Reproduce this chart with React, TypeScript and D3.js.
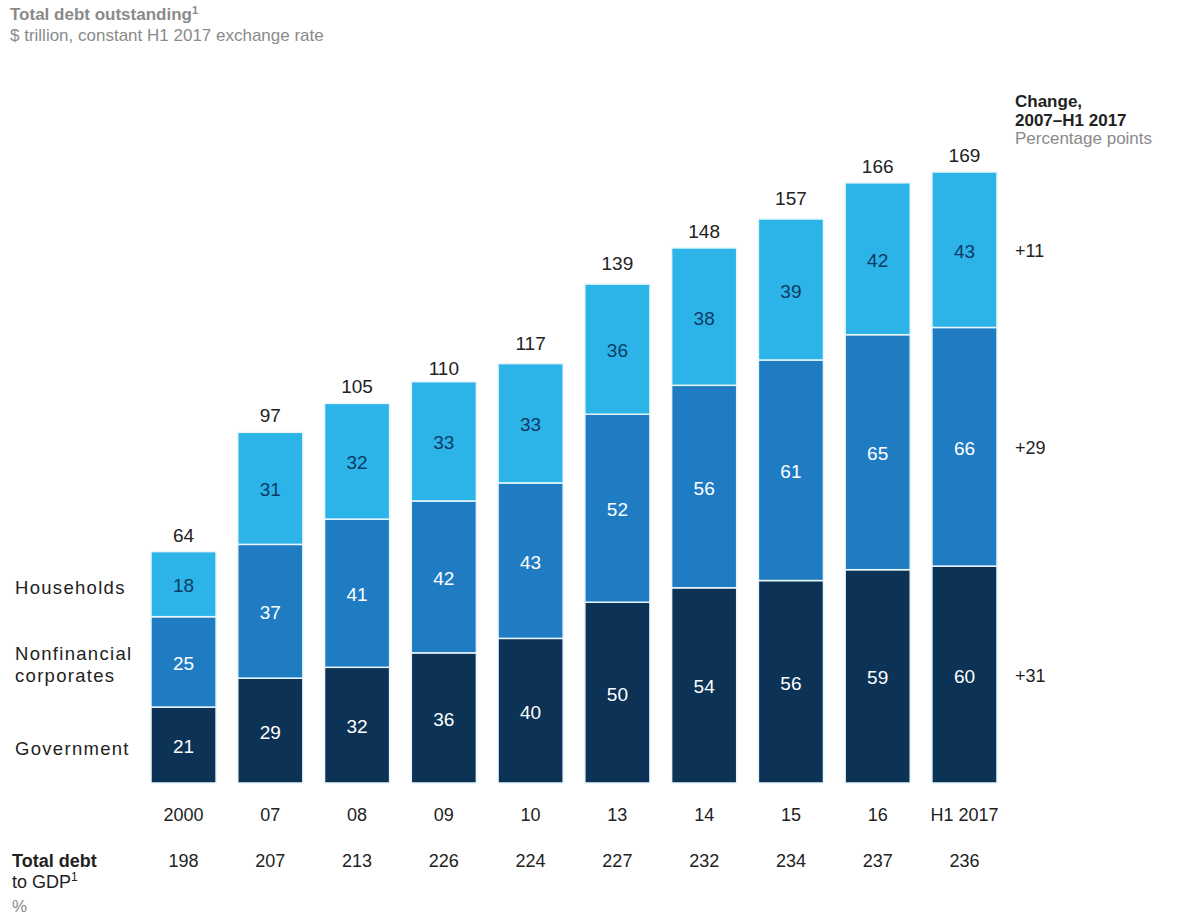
import React from "react";
import * as d3 from "d3";

const categories = ["2000", "07", "08", "09", "10", "13", "14", "15", "16", "H1 2017"];
const government = [21, 29, 32, 36, 40, 50, 54, 56, 59, 60];
const nonfinancial = [25, 37, 41, 42, 43, 52, 56, 61, 65, 66];
const households = [18, 31, 32, 33, 33, 36, 38, 39, 42, 43];
const totals = [64, 97, 105, 110, 117, 139, 148, 157, 166, 169];
const debtToGdp = [198, 207, 213, 226, 224, 227, 232, 234, 237, 236];
const seriesNames = ["Government", "Nonfinancial corporates", "Households"];
const changes = ["+31", "+29", "+11"];

const W = 1190;
const H = 917;
const FONT = "'Liberation Sans', Arial, Helvetica, sans-serif";
const colors = ["#0c3256", "#1f7cc3", "#2cb4e8"];
const labelColors = ["#ffffff", "#ffffff", "#0d3a66"];

export default function App() {
  const rows = categories.map((c, i) => ({
    cat: c,
    Government: government[i],
    "Nonfinancial corporates": nonfinancial[i],
    Households: households[i],
  }));
  const stack = d3.stack<any>().keys(seriesNames)(rows);

  const x = d3.scaleBand<string>().domain(categories).range([151, 997]).paddingInner(0.25).paddingOuter(0);
  const y = d3.scaleLinear().domain([0, 169]).range([783, 172]);
  const bw = x.bandwidth();
  const lastX = (x("H1 2017") as number) + bw;

  return (
    <svg width={W} height={H} style={{ position: "absolute", left: 0, top: 0, background: "#fff" }} fontFamily={FONT}>
      <rect width={W} height={H} fill="#fff" />
      <text x={10} y={20} fontSize={17} fontWeight="bold" fill="#8a8a8a">
        Total debt outstanding<tspan fontSize={11} dy={-6}>1</tspan>
      </text>
      <text x={10} y={41} fontSize={17} fill="#8a8a8a">$ trillion, constant H1 2017 exchange rate</text>

      {stack.map((layer, si) => (
        <g key={layer.key}>
          {layer.map((d, i) => {
            const x0 = x(categories[i]) as number;
            const y0 = y(d[1]);
            const y1 = y(d[0]);
            return (
              <g key={i}>
                <rect x={x0} y={y0} width={bw} height={y1 - y0} fill={colors[si]} stroke="#e8f6fc" strokeWidth={1.5} />
                <text x={x0 + bw / 2} y={(y0 + y1) / 2 + 8} textAnchor="middle" fontSize={19} fill={labelColors[si]}>
                  {d[1] - d[0]}
                </text>
              </g>
            );
          })}
        </g>
      ))}

      {totals.map((t, i) => (
        <text key={i} x={(x(categories[i]) as number) + bw / 2} y={y(t) - 10} textAnchor="middle" fontSize={19} fill="#222">
          {t}
        </text>
      ))}

      {categories.map((c, i) => (
        <text key={c} x={(x(c) as number) + bw / 2} y={821} textAnchor="middle" fontSize={18} fill="#222">
          {c}
        </text>
      ))}
      {debtToGdp.map((v, i) => (
        <text key={i} x={(x(categories[i]) as number) + bw / 2} y={867} textAnchor="middle" fontSize={18} fill="#222">
          {v}
        </text>
      ))}

      <text x={12} y={867} fontSize={18} fontWeight="bold" fill="#222">Total debt</text>
      <text x={12} y={888} fontSize={18} fill="#222">
        to GDP<tspan fontSize={12} dy={-7}>1</tspan>
      </text>
      <text x={12} y={912} fontSize={17} fill="#8a8a8a">%</text>

      {/* left series labels, positioned at the 2000 bar's segments */}
      {stack.map((layer, si) => {
        const d = layer[0];
        const mid = (y(d[0]) + y(d[1])) / 2;
        const lines = seriesNames[si] === "Nonfinancial corporates" ? ["Nonfinancial", "corporates"] : [seriesNames[si]];
        return (
          <text key={si} x={15} y={mid + 10 - (lines.length - 1) * 12} fontSize={18.5} fill="#222" letterSpacing={1.3}>
            {lines.map((l, li) => (
              <tspan key={li} x={15} dy={li === 0 ? 0 : 22}>{l}</tspan>
            ))}
          </text>
        );
      })}

      {/* right change header */}
      <text x={1015} y={107} fontSize={17} fontWeight="bold" fill="#222">Change,</text>
      <text x={1015} y={126} fontSize={17} fontWeight="bold" fill="#222">2007–H1 2017</text>
      <text x={1015} y={144} fontSize={17} fill="#8a8a8a">Percentage points</text>

      {stack.map((layer, si) => {
        const d = layer[layer.length - 1];
        const mid = (y(d[0]) + y(d[1])) / 2;
        return (
          <text key={si} x={lastX + 18} y={mid + 7} fontSize={18} fill="#222">
            {changes[si]}
          </text>
        );
      })}
    </svg>
  );
}
